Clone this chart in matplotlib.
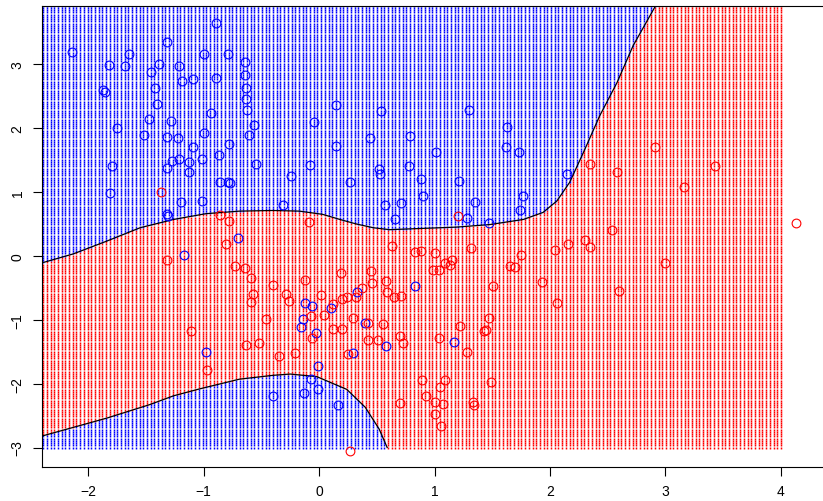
import matplotlib
matplotlib.use("Agg")
import matplotlib.pyplot as plt
import numpy as np


# training points
BLUE_X = [-0.89, -1.32, -2.14, -1.65, -1.00, -0.79, -0.64, -1.82, -1.68, -1.39,
          -1.46, -1.21, -0.64, -1.19, -1.09, -0.89, -1.87, -1.85, -1.42, -0.63,
          -0.63, -1.40, -0.62, -0.94, -1.47, -1.28, -0.56, -1.75, -0.61, -1.52,
          -1.32, -1.22, -1.00, -0.78, -1.09, -0.87, -1.27, -1.21, -1.13, -1.01,
          -0.55, -1.79, -1.32, -1.13, -0.24, -0.86, -0.79, -0.77, -1.81, -1.20,
          -1.01, -0.31, -1.32, -1.31, -0.70, -1.17,
          0.15, 0.54, 1.30, -0.04, 1.63, 0.44, 0.79, 0.15, 1.62, 1.73,
          1.01, -0.08, 0.52, 0.78, 0.53, 0.27, 0.88, 1.21, 0.90, 0.57,
          0.71, 1.35, 1.77, 1.74, 0.66, 1.28, 1.47, 2.15, 0.83, 0.33,
          -0.12, -0.06, 0.10, -0.14, -0.16, 0.40, -0.03, 0.58, 1.17, 0.29,
          -0.01, -0.07, -0.01, -0.13, 0.16, -0.98, -0.40]
BLUE_Y = [3.64, 3.35, 3.19, 3.16, 3.16, 3.16, 3.04, 2.98, 2.97, 3.01,
          2.88, 2.97, 2.83, 2.74, 2.77, 2.78, 2.59, 2.56, 2.62, 2.62,
          2.46, 2.37, 2.28, 2.24, 2.14, 2.11, 2.05, 2.00, 1.89, 1.89,
          1.86, 1.84, 1.93, 1.75, 1.71, 1.58, 1.48, 1.52, 1.47, 1.52,
          1.43, 1.40, 1.38, 1.31, 1.25, 1.16, 1.15, 1.14, 0.99, 0.85,
          0.86, 0.80, 0.65, 0.63, 0.28, 0.02,
          2.36, 2.26, 2.28, 2.09, 2.02, 1.84, 1.87, 1.72, 1.70, 1.63,
          1.62, 1.42, 1.36, 1.41, 1.28, 1.15, 1.21, 1.17, 0.94, 0.79,
          0.83, 0.85, 0.93, 0.72, 0.57, 0.59, 0.52, 1.28, -0.47, -0.57,
          -0.74, -0.78, -0.82, -0.99, -1.12, -1.05, -1.21, -1.41, -1.35, -1.52,
          -1.73, -1.93, -2.09, -2.15, -2.34, -1.51, -2.20]

RED_X = [-1.37, -0.86, -0.78, -0.81, -1.32, -0.73, -0.64, -0.59, -0.40, -0.57,
         -0.29, -0.59, -0.26, 1.20, -0.09, 0.63, 0.83, 0.88, 1.00, 1.32,
         1.15, 1.09, 1.13, 0.99, 1.04, 1.65, 1.70, 1.75, 2.04, 2.16,
         0.19, 0.45, -0.12, 0.58, 0.46, 1.51, 1.93, 0.37, 0.59, 0.65,
         0.71, 0.02, 0.24, 0.20, 0.32, 0.12, 2.06, 0.04, -0.07, 0.29,
         0.42, 0.55, 1.47, 1.22, 1.43, 1.45, 0.12, 0.20, -0.06, 0.42,
         0.51, 0.70, 0.73, 1.04, 1.28, -0.21, 0.25, 0.27, 0.89, 1.09,
         1.05, 1.49, 0.93, 1.00, 1.07, 0.70, 1.33, 1.34, 1.00, 1.06,
         -0.46, -1.11, -0.63, -0.52, -0.35, -0.97,
         2.91, 2.35, 2.58, 3.43, 3.16, 4.13, 2.54, 2.30, 2.35, 3.00, 2.60]
RED_Y = [1.00, 0.64, 0.54, 0.19, -0.07, -0.16, -0.19, -0.35, -0.46, -0.60,
         -0.59, -0.72, -0.71, 0.62, 0.53, 0.15, 0.06, 0.07, 0.05, 0.13,
         -0.06, -0.11, -0.15, -0.22, -0.22, -0.16, -0.17, 0.02, 0.09, 0.18,
         -0.27, -0.24, -0.38, -0.39, -0.42, -0.47, -0.41, -0.51, -0.57, -0.64,
         -0.63, -0.61, -0.64, -0.68, -0.64, -0.75, -0.74, -0.92, -0.94, -0.97,
         -1.05, -1.06, -0.97, -1.10, -1.17, -1.16, -1.15, -1.15, -1.29, -1.31,
         -1.31, -1.26, -1.36, -1.28, -1.51, -1.52, -1.53, -3.05, -1.94, -1.95,
         -2.05, -1.97, -2.20, -2.29, -2.32, -2.30, -2.29, -2.33, -2.48, -2.66,
         -0.99, -1.17, -1.39, -1.36, -1.57, -1.79,
         1.70, 1.44, 1.31, 1.41, 1.08, 0.51, 0.41, 0.25, 0.14, -0.11, -0.55]

# decision boundary
UPPER_X = [-2.42, -2.13, -1.84, -1.55, -1.26, -0.98, -0.69, -0.40, -0.17, 0.03,
           0.18, 0.32, 0.47, 0.61, 0.90, 1.19, 1.48, 1.77, 1.94, 2.06,
           2.17, 2.29, 2.43, 2.58, 2.72, 2.91, 2.95]
UPPER_Y = [-0.12, 0.03, 0.23, 0.44, 0.57, 0.66, 0.70, 0.71, 0.70, 0.65,
           0.57, 0.50, 0.44, 0.41, 0.43, 0.45, 0.49, 0.57, 0.68, 0.86,
           1.15, 1.62, 2.19, 2.71, 3.29, 3.90, 4.05]
LOWER_X = [-2.42, -1.84, -1.47, -1.26, -1.03, -0.69, -0.40, -0.25, -0.02, 0.24,
           0.40, 0.52, 0.59]
LOWER_Y = [-2.83, -2.54, -2.33, -2.19, -2.08, -1.93, -1.87, -1.85, -1.89, -2.09,
           -2.37, -2.71, -3.00]

GRID_X = (-2.39, 4.0)
GRID_Y = (-3.0, 3.95)
GRID_N = 200

# small upright dash, close to how R draws pch="." at this size
DOT = [(-0.4, -0.5), (0.4, -0.5), (0.4, 0.5), (-0.4, 0.5), (-0.4, -0.5)]


def classify(gx, gy):
    top = np.interp(gx, UPPER_X, UPPER_Y, left=UPPER_Y[0], right=np.inf)
    bottom = np.interp(gx, LOWER_X, LOWER_Y, left=LOWER_Y[0], right=-np.inf)
    return (gy > top) | (gy < bottom)


def main():
    plt.rcParams["font.family"] = ["Liberation Sans", "DejaVu Sans"]
    fig = plt.figure(figsize=(8.23, 5.02), dpi=100)
    ax = fig.add_axes([0.051, 0.0683, 0.961, 0.9177])

    xs = np.linspace(*GRID_X, GRID_N)
    ys = np.linspace(*GRID_Y, GRID_N)
    gx, gy = np.meshgrid(xs, ys)
    gx, gy = gx.ravel(), gy.ravel()
    is_blue = classify(gx, gy)

    for mask, colour in ((~is_blue, "#ff0000"), (is_blue, "#0000ff")):
        dots = ax.scatter(gx[mask], gy[mask], s=1.9, marker=DOT, c=colour,
                          linewidths=0)
        dots.set_snap(False)

    ax.plot(UPPER_X, UPPER_Y, color="black", lw=0.9)
    ax.plot(LOWER_X, LOWER_Y, color="black", lw=0.9)

    ax.plot(BLUE_X, BLUE_Y, "o", ms=6.3, mfc="none", mec="#0000ff", mew=0.8)
    ax.plot(RED_X, RED_Y, "o", ms=6.3, mfc="none", mec="#ff0000", mew=0.8)

    ax.set_xlim(-2.40, 4.45)
    ax.set_ylim(-3.30, 3.91)
    ax.set_xticks(range(-2, 5))
    ax.set_yticks(range(-3, 4))
    ax.tick_params(length=6.5, width=0.8, labelsize=10, pad=6)
    for label in ax.get_yticklabels():
        label.set_rotation(90)
        label.set_va("center")
    for spine in ax.spines.values():
        spine.set_linewidth(0.8)

    fig.savefig("out.png", dpi=100)
    plt.close(fig)


if __name__ == "__main__":
    main()
